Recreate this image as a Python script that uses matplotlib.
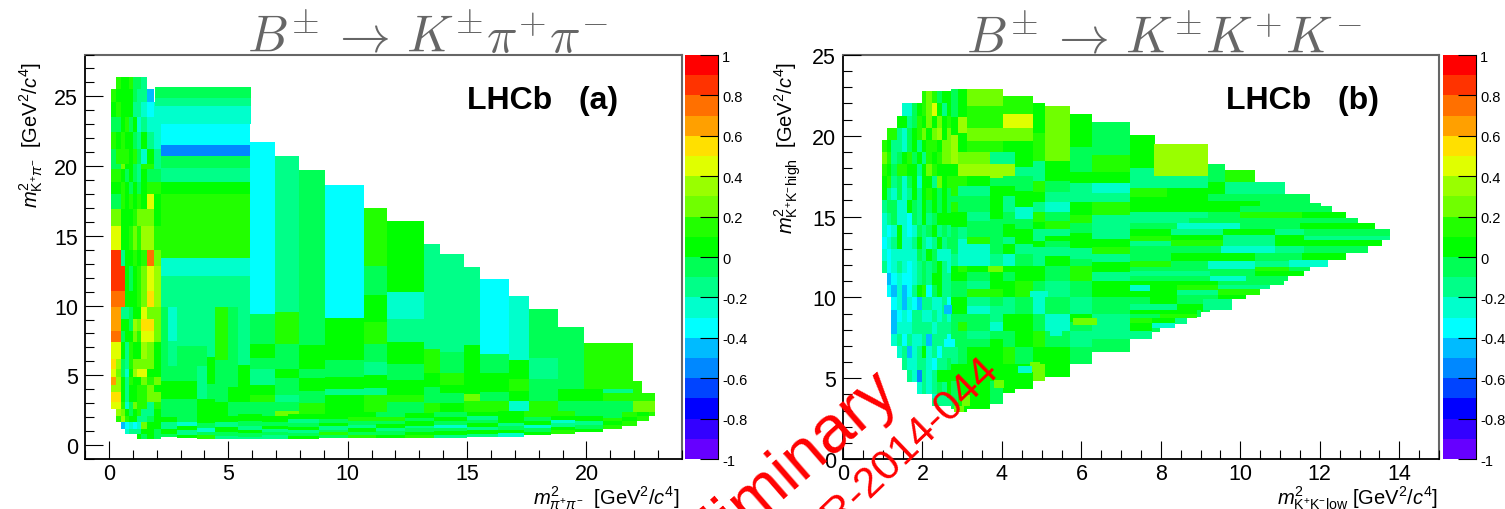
import numpy as np
import matplotlib
matplotlib.use('Agg')
import matplotlib.pyplot as plt
from matplotlib.colors import ListedColormap, BoundaryNorm
from matplotlib.ticker import MultipleLocator

plt.rcParams['font.family'] = ['Liberation Sans', 'DejaVu Sans']
plt.rcParams['mathtext.fontset'] = 'custom'
plt.rcParams['mathtext.rm'] = 'Liberation Sans'
plt.rcParams['mathtext.it'] = 'Liberation Sans:italic'
plt.rcParams['mathtext.bf'] = 'Liberation Sans:bold'

N = np.nan

# colour bins, bottom to top, one per 0.1 of the z axis
palette = ['#6600FF', '#3300FF', '#0000FF', '#0044FF', '#0088FF', '#00BBFF', '#00FFFF', '#00FFCC',
           '#00FF88', '#00FF55', '#00FF00', '#22FF00', '#70FF00', '#99FF00', '#E0FF00', '#FFE000',
           '#FFA000', '#FF7000', '#FF3300', '#FF0000']
z_ticks = [-1, -0.8, -0.6, -0.4, -0.2, 0, 0.2, 0.4, 0.6, 0.8, 1]

# all z values below are in percent
# panel (a), fine bins along the low m2(pipi) edge
kpp_fine_x = [.08, .29, .49, .67, .85, 1.02, 1.19, 1.34, 1.59, 1.89, 2.18]
kpp_fine_y = [26.39, 25.56, 24.6, 23.52, 22.45, 21.25, 20.17, 19.77, 18.86, 18.0, 16.94, 15.7, 13.95, 12.87, 11.08, 9.88,
              9.05, 8.2, 7.37, 6.17, 5.46, 4.9, 4.31, 3.78, 3.06, 2.58, 2.11, 1.63, 1.15, .79, .43]
kpp_fine_z = [
    [N, 15, 5, 5, 15, -5, -5, -15, N, N],
    [15, 5, 5, 5, 5, -5, -15, -15, -45, N],
    [5, 15, 5, 5, 5, -15, -15, -25, -35, -25],
    [-5, -5, 5, 15, -5, 5, -25, -15, -25, -25],
    [15, 5, 15, 5, 5, -5, -15, 5, -15, -25],
    [-5, 15, 15, 15, 5, 15, -5, -25, 5, -15],
    [-5, -5, 25, 5, 5, -5, -15, 15, 15, -15],
    [15, 15, 5, -5, 5, -5, -15, 5, -5, -5],
    [5, 5, 15, 5, -5, 5, -5, 5, 15, 15],
    [-5, -5, 15, 5, 15, 5, 15, 5, 45, 5],
    [25, 25, 5, 5, 5, 15, 25, 25, 25, 5],
    [45, 45, 5, 5, 15, 25, 15, 35, 35, 15],
    [85, 85, -15, 5, 5, 15, 5, 15, 75, 25],
    [85, 85, 85, 5, -5, 5, 15, 25, 45, 35],
    [75, 75, 75, 5, 5, 5, 15, 25, 55, 35],
    [65, 65, -15, -15, -5, 5, 5, 45, 25, 25],
    [65, 65, 5, 5, -5, 35, 25, 55, 55, 25],
    [75, 75, -5, 5, 5, 25, 15, 45, 45, 25],
    [45, 45, 5, -15, 15, 5, 5, 35, 25, 5],
    [55, 35, -5, -15, 15, 25, 25, 25, 25, 5],
    [45, 25, -5, -25, 5, 35, 45, 45, 5, 5],
    [65, 35, 5, -15, 15, 5, 5, 25, 15, 25],
    [35, 35, 5, -15, 5, 5, 15, 15, 25, 5],
    [55, 55, 5, -15, 5, 5, 15, 15, 25, 25],
    [45, 45, 15, -25, -5, 25, 15, 15, -15, 15],
    [N, 35, 25, 5, -5, 5, 15, -15, -15, 5],
    [N, 15, 35, 15, 5, 5, -15, -15, -5, 5],
    [N, N, -45, -35, -25, -35, -25, 25, 5, 5],
    [N, N, N, -25, -15, -15, -15, 5, 5, -5],
    [N, N, N, N, N, N, 5, -5, 5, -5],
]

# panel (a), bin under the thin rows where they meet the wider bins
kpp_base = [(2.18, 21.5, [1.5, 2.6], [-5])]

# panel (a), wider bins: (x_lo, x_hi, y edges, z of each bin)
kpp_wide = [
    (1.93, 5.95, [23.04, 24.29, 24.9, 25.68], [-25, -15, -5]),
    (2.18, 5.91, [13.4, 18.0, 18.86, 19.88, 20.7, 21.54, 23.04], [15, 5, -15, -5, -55, -35]),
    (2.18, 5.91, [9.88, 12.1, 13.4], [-15, -25]),
    (2.18, 2.46, [5.7, 9.88], [-5]),
    (2.46, 2.85, [5.7, 7.49, 9.88], [-15, -25]),
    (2.85, 4.11, [5.7, 7.13, 9.88], [-5, -15]),
    (4.11, 4.44, [4.38, 6.3, 9.88], [5, -15]),
    (4.44, 4.98, [4.14, 6.1, 9.88], [-5, 15]),
    (4.98, 5.42, [4.14, 9.88], [-5]),
    (5.42, 5.91, [4.14, 5.74, 9.88], [5, -15]),
    (2.18, 3.68, [1.99, 3.30, 4.62, 5.7], [-5, 5, -5]),
    (3.68, 4.11, [1.99, 3.30, 5.7], [5, -15]),
    (4.11, 4.44, [1.99, 3.30, 4.38], [5, -5]),
    (4.44, 4.98, [1.99, 3.06, 4.14], [5, -5]),
    (4.98, 5.91, [2.11, 3.06, 4.14], [-5, 5]),
    (5.91, 6.96, [2.2, 3.06, 3.59, 4.31, 5.46, 6.22, 7.25, 9.36, 21.75], [-5, 15, 5, -15, -5, 5, -5, -35]),
    (6.96, 7.97, [2.06, 2.46, 3.06, 3.59, 4.81, 5.46, 7.25, 9.52, 20.75], [25, -5, -15, -5, 5, -5, 15, -15]),
    (7.97, 9.06, [2.2, 3.0, 3.9, 4.81, 5.46, 7.18, 19.74], [15, -5, 5, -5, 5, -5]),
    (9.06, 10.7, [2.2, 3.0, 3.6, 4.0, 4.86, 6.1, 9.12, 18.66], [5, 5, -15, 5, -5, 5, -35]),
    (10.7, 11.64, [2.35, 3.59, 4.07, 5.03, 5.93, 7.25, 8.85, 10.77, 12.83, 16.99], [15, -15, 5, -15, -5, 15, 5, -5, 15]),
    (11.64, 13.2, [2.3, 3.1, 3.59, 4.69, 5.81, 7.37, 9.05, 11.0, 13.14, 16.08], [-5, 15, 5, -5, 5, -15, -25, 5, 5]),
    (13.2, 13.88, [2.15, 3.0, 4.14, 5.17, 6.89, 14.43], [15, -5, 5, 15, -15]),
    (13.88, 14.86, [2.35, 3.0, 3.73, 4.31, 5.17, 6.65, 13.71], [5, -5, 5, 15, -5, -15]),
    (14.86, 15.56, [2.35, 3.13, 3.66, 7.18, 12.78], [15, 25, 5, -15]),
    (15.56, 16.76, [2.4, 3.18, 3.78, 5.2, 6.53, 11.92], [15, -5, 5, -5, -35]),
    (16.76, 17.6, [2.46, 3.18, 3.9, 4.74, 6.1, 10.7], [-25, 5, 15, 5, -25]),
    (17.6, 18.8, [2.46, 3.18, 4.74, 6.22, 9.76], [15, -5, -15, -5]),
    (18.8, 19.9, [2.46, 3.18, 4.02, 8.47], [-5, 5, -5]),
    (19.9, 20.7, [2.35, 3.18, 4.02, 7.32], [-5, 5, 15]),
    (20.7, 21.96, [2.35, 3.18, 3.73, 4.02, 7.32], [-5, 15, -15, 15]),
    (21.96, 22.33, [2.35, 3.18, 3.73, 4.6], [25, 15, 15]),
    (22.33, 22.89, [2.2, 3.18, 3.73], [25, 15]),
    # thin rows along the bottom of the Dalitz plot
    (2.18, 2.85, [.55, .8, 1.15, 1.63, 2.0], [-5, 5, -15, 5]),
    (2.85, 3.68, [.48, .75, 1.1, 1.35, 1.63, 2.0], [5, -15, 5, -25, -5]),
    (3.68, 4.44, [.43, .7, .95, 1.25, 1.6, 2.0], [15, -5, -25, -5, 5]),
    (4.44, 5.42, [.4, .65, .95, 1.3, 1.65, 2.11], [-15, -5, 5, -15, 5]),
    (5.42, 6.4, [.4, .6, .85, 1.1, 1.4, 1.75, 2.2], [-15, -5, 5, -15, -5, 5]),
    (6.4, 7.5, [.45, .7, .9, 1.15, 1.35, 1.65, 2.06], [-15, -5, -15, 5, -5, 5]),
    (7.5, 8.8, [.45, .65, .85, 1.05, 1.3, 1.55, 1.85, 2.2], [5, -5, -15, 5, -5, -15, 5]),
    (8.8, 10.0, [.48, .7, .95, 1.1, 1.35, 1.6, 1.85, 2.2], [-5, 15, -5, -15, 5, -5, 5]),
    (10.0, 11.2, [.48, .75, .95, 1.2, 1.45, 1.7, 2.0, 2.35], [15, -5, 5, -15, -5, 15, 5]),
    (11.2, 12.4, [.48, .7, 1.0, 1.2, 1.5, 1.7, 2.0, 2.3], [5, -5, -15, 5, -5, 15, -5]),
    (12.4, 13.6, [.48, .7, .95, 1.25, 1.4, 1.7, 1.95, 2.3], [15, 5, -5, -15, 5, -5, 5]),
    (13.6, 15.0, [.5, .75, 1.0, 1.25, 1.45, 1.75, 2.0, 2.35], [-15, 5, -5, -25, -5, 5, -5]),
    (15.0, 16.3, [.55, .8, 1.05, 1.3, 1.55, 1.8, 2.05, 2.4], [-15, 5, -15, 5, -5, -15, 5]),
    (16.3, 17.4, [.6, .85, 1.1, 1.35, 1.6, 1.85, 2.46], [-25, 5, -5, -15, 5, 5]),
    (17.4, 18.5, [.7, .95, 1.2, 1.45, 1.75, 2.0, 2.46], [5, -5, -25, 5, -5, 15]),
    (18.5, 19.5, [.8, 1.05, 1.3, 1.55, 1.8, 2.05, 2.46], [15, 5, -15, -25, 5, 15]),
    (19.5, 20.7, [.95, 1.15, 1.45, 1.75, 2.05, 2.35], [5, -5, -15, 5, -5]),
    (20.7, 21.5, [1.15, 1.45, 1.7, 1.95, 2.35], [15, 5, 15, -5]),
    (21.5, 22.1, [1.4, 1.7, 2.0, 2.35], [15, 5, 15]),
    (22.1, 22.6, [1.75, 2.05, 2.35], [15, 5]),
    (22.6, 22.89, [2.1, 2.35], [15]),
]

# panel (b), fine bins at low m2(KK)low
kkk_fine_x = [.97, 1.10, 1.22, 1.35, 1.48, 1.60, 1.73, 1.85, 1.98, 2.10, 2.23, 2.36, 2.48, 2.61, 2.73]
kkk_fine_y = [22.75, 22, 21.25, 20.5, 19.75, 19, 18.25, 17.5, 16.75, 16, 15.25, 14.5, 13.75, 13, 12.25, 11.5,
              10.75, 10, 9.25, 8.5, 7.75, 7, 6.25, 5.5, 4.75, 4, 3.25]
kkk_fine_z = [
    [N, N, N, N, N, N, N, N, 15, 25, 15, -5, 5, 5],
    [N, N, N, N, -25, -25, -5, 5, 15, 25, 45, 5, -15, 5],
    [N, N, N, 5, 5, -15, -5, 15, 5, 25, 5, 25, 5, 15],
    [N, 15, 15, -15, -25, -5, 5, 15, 25, 5, 25, 35, 5, 25],
    [15, 5, -15, -15, -25, -5, 5, -15, 5, 15, 15, 5, 25, 25],
    [25, 15, -15, -5, 5, 15, -5, 5, -15, 15, 5, 15, 25, 25],
    [15, 5, -5, 15, 15, 5, 5, -15, 5, 25, 15, 5, 5, 5],
    [5, 15, -15, -5, -25, -5, 5, -25, 5, 5, -15, 25, 5, 15],
    [5, -15, -25, -5, -25, -15, 5, -15, 5, 15, 5, -5, 5, -5],
    [-15, -5, -5, -25, -25, 5, -5, -15, 5, -5, 5, -5, 5, -5],
    [-25, -15, -5, -25, -25, -35, -5, -15, 5, -15, -5, 5, 5, 5],
    [-25, -35, -25, 5, -25, -35, -25, -5, -15, -5, 5, -15, -5, -15],
    [-35, -25, -15, 5, -25, -25, -15, 5, -15, -25, -15, 5, -15, -5],
    [-25, -35, -25, -25, -25, -25, -25, -5, -15, 5, -5, -25, -25, -25],
    [-15, -35, -25, -15, -25, -35, -25, -15, -5, -15, -5, 5, -15, -25],
    [N, -45, -35, -25, -35, -35, -25, -15, -5, -15, 5, 5, -15, -15],
    [N, -35, -45, -25, -45, -35, -15, 5, 15, -35, -5, 5, -15, -15],
    [N, N, -35, -25, -45, -25, -35, -45, -15, -15, -25, -25, -15, -35],
    [N, N, -45, -35, -25, -35, -15, -15, -25, -25, -15, -25, -15, -25],
    [N, N, -45, -25, -25, -25, -15, -15, -15, -15, -25, -15, -15, -15],
    [N, N, -25, -15, -35, -15, -25, -25, -15, -45, -15, -15, -15, -35],
    [N, N, N, -25, -15, -45, -25, -15, 5, -25, -15, -35, -15, -15],
    [N, N, N, N, -15, -25, -25, -15, -15, -25, -35, -15, -15, -5],
    [N, N, N, N, N, -15, -25, -55, -15, -25, -15, 5, 5, 5],
    [N, N, N, N, N, N, N, -25, -15, -25, -15, -5, -15, 5],
    [N, N, N, N, N, N, N, N, N, N, -25, -15, -15, 5],
]

# panel (b), the long tail outline, filled with the commonest bin colour
kkk_tail_x = [7.22, 7.77, 7.97, 8.35, 8.65, 9.02, 9.23, 9.8, 10.14, 10.5, 10.74, 11.1, 11.2, 11.45, 11.66, 11.75,
              12.03, 12.2, 12.3, 12.65, 12.96, 13.2, 13.38, 13.56, 13.76]
kkk_tail_lo = [7.43, 7.84, 8.09, 8.35, 8.77, 9.08, 9.24, 9.9, 10.2, 10.56, 10.79, 11.1, 11.34, 11.65, 11.65, 11.86,
               11.86, 12.33, 12.33, 12.79, 12.79, 13.2, 13.24, 13.57]
kkk_tail_hi = [17, 17, 17, 17, 17, 17, 16.4, 16.4, 16.4, 16.4, 16.4, 16.4, 16.4, 16.4, 16.4, 15.84,
               15.64, 15.64, 15.26, 14.89, 14.58, 14.58, 14.23, 14.23]
kkk_tail_z = -5

# panel (b), wider columns: (x_lo, x_hi, y edges, z of each bin)
kkk_columns = [
    (2.73, 2.9, [22.9, 21.14, 20.05, 18.25, 17.53, 16.3, 15.88, 15.26, 14.33, 13.61, 12.69, 11.96, 11.04, 10.0, 8.97,
                 7.94, 6.91, 5.88, 4.85, 3.1], [-5, 5, 35, 5, 15, -5, 15, 5, -5, -5, -15, 5, -5, 5, -5, -5, -15, 5, -5]),
    (2.9, 3.11, [22.9, 21.14, 20.2, 18.98, 18.25, 17.53, 16.91, 16.3, 15.26, 14.33, 13.61, 11.96, 11.55, 11.04, 10.0,
                 8.97, 8.46, 7.94, 6.91, 5.88, 4.85, 3.82, 2.9],
     [5, 35, 5, 25, 35, 15, -15, -5, 5, -15, -25, 15, 5, -5, 5, -5, 15, -5, -5, 5, 5, 5]),
    (3.11, 3.7, [22.9, 21.82, 20.46, 19.7, 18.98, 18.25, 17.49, 16.91, 16.3, 15.26, 14.75, 14.23, 13.72, 13.3, 11.96,
                 11.55, 11.04, 10.52, 10.0, 9.49, 8.97, 8.46, 7.94, 7.43, 6.91, 6.39, 5.88, 5.36, 4.85, 4.33, 3.1],
     [25, 15, 25, 15, 25, 35, 5, -15, -5, -15, -5, -5, 15, -25, 5, -5, -15, 15, -15, -25, -5, -5, -15, -5, 5, 5, 5, 5, 5, 5]),
    (3.7, 4.03, [22.9, 21.82, 20.46, 19.7, 18.98, 18.25, 17.4, 16.91, 16.3, 14.85, 13.61, 12.69, 11.96, 11.55, 11.04,
                 10.52, 10.0, 9.49, 8.46, 7.94, 7.43, 6.91, 5.88, 4.85, 3.4],
     [25, 15, 25, 15, -15, 35, -5, 5, 5, -5, -5, -15, 25, 5, 5, 5, -5, -15, -25, -5, 5, 5, 5, -5]),
    (4.03, 4.33, [22.48, 21.35, 20.46, 19.7, 18.98, 18.25, 17.49, 16.91, 16.3, 15.26, 14.54, 13.72, 13.3, 12.69, 11.96,
                  11.55, 11.04, 10.0, 8.97, 7.94, 6.91, 5.88, 4.1], [15, 45, 25, 5, -15, 35, -5, 5, -15, -5, 5, -15, 5, -25, 5, -5, 5, -15, 5, -5, 15, 5]),
    (4.33, 4.79, [22.48, 21.35, 20.46, 19.7, 18.1, 17.49, 16.6, 15.57, 14.85, 14.23, 13.72, 13.3, 12.69, 11.96, 11.04,
                  10.0, 8.97, 7.94, 6.91, 5.88, 4.33], [15, 45, 25, 5, -15, -5, 5, -25, -5, 5, 5, -15, -5, 5, 15, -5, 5, 5, -5, 5]),
    (4.79, 5.08, [22.03, 20.2, 18.46, 17.22, 16.5, 15.88, 15.26, 14.67, 14.23, 13.5, 13.1, 12.42, 11.96, 11.04, 10.0, 8.97,
                  7.94, 6.91, 5.88, 4.85], [5, 15, -15, 15, 5, -15, 15, 5, -15, 5, -15, -15, 5, -5, -25, -5, 15, 5, 25]),
    (5.08, 5.71, [21.82, 18.46, 17.79, 17.22, 16.5, 15.88, 15.26, 14.75, 14.23, 13.82, 13.5, 13.1, 12.58, 11.96, 11.04,
                  10.0, 8.97, 7.94, 6.91, 5.88, 5.1], [25, 5, 5, -5, -15, -25, -5, 15, -15, 5, -5, -15, 5, -5, -15, -5, -25, -5, 5, 5]),
    (5.71, 6.27, [21.35, 19.28, 17.79, 17.1, 16.5, 15.88, 15.1, 14.63, 14.0, 13.5, 13.05, 12.4, 11.96, 11.04, 10.0, 8.97,
                  8.46, 7.94, 6.91, 5.88], [5, -5, 5, -15, -15, 5, 15, -5, 5, 5, -15, -5, 15, -5, -15, 5, -5, -15, -5]),
    (6.27, 7.22, [20.83, 18.81, 17.79, 17.1, 16.48, 15.88, 15.1, 14.5, 13.6, 13.1, 12.7, 12.2, 11.6, 11.04, 10.0, 8.97,
                  8.3, 7.43, 6.6], [-5, 15, 5, -25, -15, 15, -15, -15, 5, 15, -15, 5, -15, 5, -5, -15, -15, -5]),
    (7.22, 7.85, [18.01, 20.05], [5]),
    (7.22, 7.82, [17.53, 18.01], [-15]),
    (7.22, 9.18, [16.77, 17.53], [-15]),
    (7.82, 9.18, [17.53, 19.49], [35]),
    (7.22, 8.15, [16.23, 16.77], [15]),
    (8.15, 9.18, [16.23, 16.77], [5]),
    (9.18, 9.61, [16.4, 17.12, 18.25], [5, -5]),
    (9.61, 10.36, [17.12, 17.88], [15]),
    (9.61, 11.12, [16.4, 17.12], [-15]),
    (7.22, 9.18, [14.58, 15.26, 15.64, 16.23], [-15, 5, 5]),
    (9.18, 10.49, [15.64, 15.99, 16.4], [5, -5]),
    (10.49, 11.75, [15.84, 16.4], [-5]),
    (10.49, 12.03, [15.64, 15.84], [-5]),
    (9.18, 10.0, [14.89, 15.26, 15.64], [-5, 5]),
    (10.0, 12.3, [15.26, 15.64], [-5]),
    (10.0, 11.55, [14.89, 15.26], [15]),
    (11.55, 12.65, [14.89, 15.26], [5]),
    (8.71, 10.0, [14.58, 14.89], [-5]),
    (10.0, 11.5, [14.23, 14.89], [-5]),
    (11.5, 12.96, [14.58, 14.89], [-5]),
    (11.5, 13.38, [14.23, 14.58], [5]),
    (7.22, 8.41, [14.23, 14.58], [-5]),
    (8.41, 9.99, [14.23, 14.58], [-25]),
    (7.22, 8.25, [12.75, 13.16, 13.51, 13.82, 14.23], [-5, -15, 15, 5]),
    (8.25, 9.57, [13.16, 13.55, 13.88, 14.23], [15, 5, -15]),
    (9.57, 10.88, [13.16, 13.88, 14.23], [-15, 5]),
    (10.88, 11.6, [13.16, 13.88, 14.23], [5, -15]),
    (11.6, 13.76, [13.55, 13.82, 14.23], [-15, -5]),
    (11.6, 13.56, [13.16, 13.55], [5]),
    (8.25, 9.51, [12.75, 13.16], [-5]),
    (9.51, 10.88, [12.75, 13.16], [-25]),
    (10.88, 11.6, [12.75, 13.16], [-15]),
    (11.6, 13.21, [12.75, 13.16], [-5]),
    (7.22, 8.25, [11.65, 11.86, 12.27, 12.75], [-5, 15, -5]),
    (8.25, 10.36, [12.27, 12.75], [5]),
    (10.36, 11.55, [12.27, 12.75], [-5]),
    (11.55, 12.65, [12.33, 12.75], [5]),
    (8.25, 9.18, [11.65, 12.27], [-5]),
    (9.18, 10.36, [11.76, 12.27], [-25]),
    (10.36, 11.23, [11.86, 12.27], [-15]),
    (11.23, 12.2, [11.86, 12.33], [-25]),
    (10.36, 11.23, [11.65, 11.86], [15]),
    (7.22, 8.06, [11.04, 11.34, 11.65], [-5, -15]),
    (8.06, 9.23, [11.04, 11.34, 11.65], [-5, -15]),
    (9.23, 10.36, [11.34, 11.76], [-5]),
    (10.36, 11.6, [11.34, 11.65], [5]),
    (9.23, 10.14, [11.04, 11.34], [-25]),
    (10.14, 11.2, [11.04, 11.34], [-5]),
    (7.22, 7.72, [10.0, 10.41, 10.79, 11.04], [5, -25, 5]),
    (7.72, 8.41, [9.6, 10.79, 11.04], [5, 5]),
    (8.41, 9.43, [10.15, 10.46, 10.79, 11.04], [-15, 15, 5]),
    (9.43, 11.0, [10.79, 11.04], [-5]),
    (9.43, 10.74, [10.52, 10.79], [-15]),
    (9.43, 10.49, [10.15, 10.52], [15]),
    (9.43, 10.14, [9.9, 10.15], [5]),
    (7.22, 7.72, [9.22, 9.6, 10.0], [-15, -5]),
    (8.41, 9.07, [9.1, 9.6, 10.15], [5, -5]),
    (9.07, 9.8, [9.24, 9.9], [-15]),
    (7.72, 8.41, [9.22, 9.6], [-15]),
    (7.22, 7.97, [8.4, 8.72, 9.0, 9.22], [15, -5, 5]),
    (7.97, 8.9, [8.72, 8.95, 9.22], [15, 5]),
    (7.22, 7.77, [7.43, 7.9, 8.4], [-15, 5]),
    (7.77, 8.35, [8.09, 8.4, 8.72], [-25, 5]),
    (8.35, 8.65, [8.35, 8.72], [-15]),
    (8.9, 9.02, [8.77, 9.22], [-5]),
]

# panel (b), isolated bins that stand out, drawn last
kkk_accents = [
    (3.66, 4.03, [10.0, 10.5], [15]),
    (3.66, 4.03, [11.55, 11.96], [25]),
    (5.8, 6.4, [8.3, 8.7], [25]),
    (4.7, 5.15, [10.0, 10.4], [-25]),
    (5.2, 5.5, [7.6, 8.75], [-25]),
    (4.7, 4.95, [5.4, 6.0], [25]),
    (3.8, 4.05, [4.4, 4.9], [25]),
    (2.55, 2.75, [9.0, 9.5], [-45]),
    (2.55, 2.82, [6.95, 7.45], [-35]),
    (3.0, 3.2, [3.3, 3.95], [25]),
    (2.8, 3.05, [2.9, 3.3], [25]),
    (2.25, 2.75, [3.3, 3.75], [-15]),
    (4.4, 4.75, [5.3, 5.75], [-25]),
]

letters = ['LHCb   (a)', 'LHCb   (b)']


def px_rect(left, top, right, bottom):
    return [left / 1505, 1 - bottom / 510, (right - left) / 1505, (bottom - top) / 510]


cmap = ListedColormap(palette)
norm = BoundaryNorm(np.arange(-1, 1.01, 0.1), cmap.N)


def draw_grid(ax, xs, ys, z):
    values = np.ma.masked_invalid(np.array(z, dtype=float) / 100)
    ax.pcolormesh(xs, ys, values, cmap=cmap, norm=norm, linewidth=0, antialiased=False)


def draw_columns(ax, columns):
    for x_lo, x_hi, edges, z in columns:
        edges = np.array(edges)
        ax.bar(np.full(len(z), x_lo), np.abs(np.diff(edges)), width=x_hi - x_lo,
               bottom=np.minimum(edges[:-1], edges[1:]), align='edge',
               color=cmap(norm(np.array(z) / 100)), linewidth=0, antialiased=False, zorder=2)


def style_axis(ax, xlim, ylim, x_major, x_minor, y_major, y_minor):
    ax.set_xlim(xlim)
    ax.set_ylim(ylim)
    ax.xaxis.set_major_locator(MultipleLocator(x_major))
    ax.xaxis.set_minor_locator(MultipleLocator(x_minor))
    ax.yaxis.set_major_locator(MultipleLocator(y_major))
    ax.yaxis.set_minor_locator(MultipleLocator(y_minor))
    ax.tick_params(which='major', direction='in', length=13, width=0.8, labelsize=15.5, pad=5)
    ax.tick_params(axis='x', which='major', pad=3)
    ax.tick_params(which='minor', direction='in', length=6.5, width=0.8)
    ax.set_axisbelow(False)
    ax.spines['left'].set_linewidth(1.3)
    ax.spines['bottom'].set_linewidth(1.3)
    ax.spines['top'].set_color('#666666')
    ax.spines['right'].set_color('#666666')
    ax.spines['top'].set_linewidth(1.5)
    ax.spines['right'].set_linewidth(1.5)


def draw_colorbar(fig, rect):
    cax = fig.add_axes(px_rect(*rect))
    bounds = np.arange(-1, 1.01, 0.1)
    cax.pcolormesh([0, 1], bounds, (bounds[:-1] + 0.05).reshape(-1, 1), cmap=cmap, norm=norm)
    cax.set_xlim(0, 1)
    cax.set_ylim(-1, 1)
    cax.set_xticks([])
    cax.yaxis.tick_right()
    cax.set_yticks(z_ticks)
    cax.set_yticklabels([f'{t:g}' for t in z_ticks])
    cax.tick_params(axis='y', direction='in', length=13, width=0.8, labelsize=10.5, pad=3)
    for side in ['left', 'top', 'bottom']:
        cax.spines[side].set_visible(False)
    cax.spines['right'].set_linewidth(0.8)


fig = plt.figure(figsize=(15.05, 5.10), dpi=100)

# panel (a)
ax1 = fig.add_axes(px_rect(85, 55.5, 682, 460))
draw_grid(ax1, kpp_fine_x, kpp_fine_y, kpp_fine_z)
draw_columns(ax1, kpp_base)
draw_columns(ax1, kpp_wide)
style_axis(ax1, (-1, 24), (-1, 28), 5, 1, 5, 1)
fig.text(608 / 1505, 1 - 53 / 510, r'$B^{\pm}\,\rightarrow\,K^{\pm}\pi^{+}\pi^{-}$', fontsize=36.6, color='#666666',
         ha='right', va='baseline', math_fontfamily='cm')
fig.text(467 / 1505, 1 - 101 / 510, letters[0], fontsize=23, fontweight='bold', ha='left', va='center')
fig.text(680 / 1505, 1 - 504 / 510, r'$m^{2}_{\pi^{+}\pi^{-}}$  [GeV$^{2}$/$c^{4}$]', fontsize=14.5, ha='right', va='baseline')
fig.text(31 / 1505, 1 - 62 / 510, r'$m^{2}_{\mathrm{K}^{+}\pi^{-}}$  [GeV$^{2}$/$c^{4}$]', fontsize=14.5, rotation=90,
         ha='center', va='top')
draw_colorbar(fig, (685, 56, 718, 460))

# panel (b)
ax2 = fig.add_axes(px_rect(843, 56, 1439, 460))
draw_grid(ax2, kkk_fine_x, kkk_fine_y, kkk_fine_z)
ax2.bar(kkk_tail_x[:-1], np.array(kkk_tail_hi) - np.array(kkk_tail_lo), width=np.diff(kkk_tail_x), bottom=kkk_tail_lo,
        align='edge', color=cmap(norm(kkk_tail_z / 100)), linewidth=0, antialiased=False, zorder=2)
draw_columns(ax2, kkk_columns)
draw_columns(ax2, kkk_accents)
style_axis(ax2, (0, 15), (0, 25), 2, 0.5, 5, 1)
fig.text(1362 / 1505, 1 - 53 / 510, r'$B^{\pm}\,\rightarrow\,K^{\pm}K^{+}K^{-}$', fontsize=36.6, color='#666666',
         ha='right', va='baseline', math_fontfamily='cm')
fig.text(1226 / 1505, 1 - 101 / 510, letters[1], fontsize=23, fontweight='bold', ha='left', va='center')
fig.text(1438 / 1505, 1 - 504 / 510, r'$m^{2}_{\mathrm{K}^{+}\mathrm{K}^{-}\mathrm{low}}$ [GeV$^{2}$/$c^{4}$]', fontsize=14.5,
         ha='right', va='baseline')
fig.text(788 / 1505, 1 - 62 / 510, r'$m^{2}_{\mathrm{K}^{+}\mathrm{K}^{-}\mathrm{high}}$  [GeV$^{2}$/$c^{4}$]', fontsize=14.5,
         rotation=90, ha='center', va='top')
draw_colorbar(fig, (1443, 56, 1476, 460))

# red stamp across the lower middle, runs off the page as in the original
fig.text(900 / 1505, 1 - 394 / 510, 'Preliminary', fontsize=48, color='red', rotation=41, rotation_mode='anchor',
         ha='right', va='baseline', zorder=10)
fig.text(1000 / 1505, 1 - 371 / 510, 'LHCb-PAPER-2014-044', fontsize=31, color='red', rotation=44, rotation_mode='anchor',
         ha='right', va='baseline', zorder=10)

fig.savefig('out.png', dpi=100)
